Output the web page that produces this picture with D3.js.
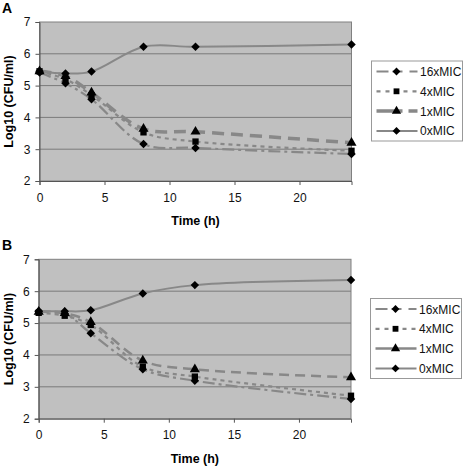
<!DOCTYPE html>
<html><head><meta charset="utf-8">
<script src="https://cdn.jsdelivr.net/npm/d3@7"></script>
<style>body{margin:0;background:#fff}svg{display:block;font-family:"Liberation Sans",Arial,sans-serif}</style>
</head><body>
<script>
const times = [0, 2, 4, 8, 12, 24];
const seriesNames = ["16xMIC", "4xMIC", "1xMIC", "0xMIC"];
const xTicks = [0, 5, 10, 15, 20];
const yTicks = [2, 3, 4, 5, 6, 7];
// Panel A values (log10 CFU/ml)
const a16 = [5.41, 5.07, 4.57, 3.16, 3.04, 2.85];
const a4  = [5.45, 5.20, 4.70, 3.53, 3.24, 2.95];
const a1  = [5.45, 5.30, 4.78, 3.64, 3.55, 3.20];
const a0  = [5.45, 5.38, 5.44, 6.22, 6.22, 6.29];
// Panel B values
const b16 = [5.36, 5.30, 4.68, 3.55, 3.19, 2.62];
const b4  = [5.32, 5.23, 4.94, 3.63, 3.32, 2.72];
const b1  = [5.35, 5.31, 5.03, 3.82, 3.55, 3.30];
const b0  = [5.38, 5.37, 5.40, 5.93, 6.19, 6.35];

const svg = d3.select("body").append("svg").attr("width", 464).attr("height", 468);
const lineCol = "#888888";

const stylesA = [
  {dash: "12,4,3,4", w: 2.2, sym: "diamond", ldash: "12,4,10,7,8,20"},
  {dash: "4,4", w: 2.2, sym: "square", ldash: "4,5"},
  {dash: "12,7", w: 3.5, sym: "triangle", ldash: "26,6,9,20"},
  {dash: null, w: 2, sym: "diamond", ldash: null}
];
const stylesB = [
  {dash: "12,4,3,4", w: 2.2, sym: "diamond", ldash: "12,4,10,7,8,20"},
  {dash: "4,4", w: 2.2, sym: "square", ldash: "4,5"},
  {dash: "10,6", w: 2.5, sym: "triangle", ldash: null},
  {dash: null, w: 2, sym: "diamond", ldash: null}
];

function marker(sel, type, scale) {
  if (type === "diamond") {
    sel.append("path").attr("d", d3.symbol().type(d3.symbolSquare).size(36 * scale)).attr("transform", "rotate(45)").attr("fill", "#000");
  } else if (type === "square") {
    sel.append("path").attr("d", d3.symbol().type(d3.symbolSquare).size(40 * scale)).attr("fill", "#000");
  } else {
    sel.append("path").attr("d", d3.symbol().type(d3.symbolTriangle).size(44 * scale)).attr("fill", "#000");
  }
}

function panel(cfg) {
  const {left, right, top, bottom, label, data, styles, legend} = cfg;
  const g = svg.append("g");
  const x = d3.scaleLinear().domain([0, 24]).range([left, right]);
  const y = d3.scaleLinear().domain([2, 7]).range([bottom, top]);
  g.append("rect").attr("x", left).attr("y", top).attr("width", right - left).attr("height", bottom - top)
    .attr("fill", "#c0c0c0").attr("stroke", "#808080").attr("stroke-width", 1);
  g.selectAll("line.grid").data(yTicks.filter(t => t > 2 && t < 7)).join("line")
    .attr("x1", left).attr("x2", right).attr("y1", d => y(d)).attr("y2", d => y(d))
    .attr("stroke", "#7a7a7a").attr("stroke-width", 1);
  const xa = g.append("g").attr("transform", `translate(0,${bottom})`)
    .call(d3.axisBottom(x).tickValues(xTicks).tickFormat(d3.format("d")).tickSize(4).tickPadding(8));
  const ya = g.append("g").attr("transform", `translate(${left},0)`)
    .call(d3.axisLeft(y).tickValues(yTicks).tickFormat(d3.format("d")).tickSize(4).tickPadding(5));
  [xa, ya].forEach(a => {
    a.select(".domain").attr("stroke", "#555");
    a.selectAll(".tick line").attr("stroke", "#555");
    a.selectAll("text").attr("font-size", 12).attr("fill", "#111").attr("font-family", "'Liberation Sans',Arial,sans-serif");
  });
  const line = d3.line().x((d, i) => x(times[i])).y(d => y(d)).curve(d3.curveCatmullRom.alpha(0.5));
  data.forEach((vals, k) => {
    const s = styles[k];
    g.append("path").attr("d", line(vals)).attr("fill", "none").attr("stroke", lineCol)
      .attr("stroke-width", s.w).attr("stroke-dasharray", s.dash);
  });
  data.forEach((vals, k) => {
    const s = styles[k];
    g.selectAll(null).data(vals).join("g")
      .attr("transform", (d, i) => `translate(${x(times[i])},${y(d)})`)
      .each(function() { marker(d3.select(this), s.sym, 1); });
  });
  g.append("text").attr("x", 2).attr("y", top - 9).text(label)
    .attr("font-size", 14).attr("font-weight", "bold").attr("fill", "#000");
  g.append("text").attr("transform", `translate(13,${(top + bottom) / 2}) rotate(-90)`)
    .attr("text-anchor", "middle").attr("font-size", 12.5).attr("font-weight", "bold").text("Log10 (CFU/ml)");
  g.append("text").attr("x", (left + right) / 2).attr("y", bottom + 44).attr("text-anchor", "middle")
    .attr("font-size", 12.5).attr("font-weight", "bold").text("Time (h)");
  // legend
  const lg = g.append("g");
  lg.append("rect").attr("x", legend.x).attr("y", legend.y).attr("width", 91).attr("height", 80)
    .attr("fill", "#fff").attr("stroke", "#999");
  seriesNames.forEach((nm, k) => {
    const s = styles[k];
    const yy = legend.y + 10.5 + k * 19.8;
    lg.append("line").attr("x1", legend.x + 5).attr("x2", legend.x + 46).attr("y1", yy).attr("y2", yy)
      .attr("stroke", lineCol).attr("stroke-width", s.w).attr("stroke-dasharray", s.ldash);
    const mg = lg.append("g").attr("transform", `translate(${legend.x + 25},${yy})`);
    marker(mg, s.sym, 0.85);
    lg.append("text").attr("x", legend.x + 48.5).attr("y", yy + 4.5).attr("font-size", 12).attr("fill", "#111").text(nm);
  });
}

panel({left: 39.5, right: 351.5, top: 22, bottom: 181, label: "A",
  data: [a16, a4, a1, a0], styles: stylesA, legend: {x: 371.5, y: 61}});
panel({left: 38.7, right: 351, top: 259.3, bottom: 418.7, label: "B",
  data: [b16, b4, b1, b0], styles: stylesB, legend: {x: 370.5, y: 298.5}});
</script>
</body></html>
